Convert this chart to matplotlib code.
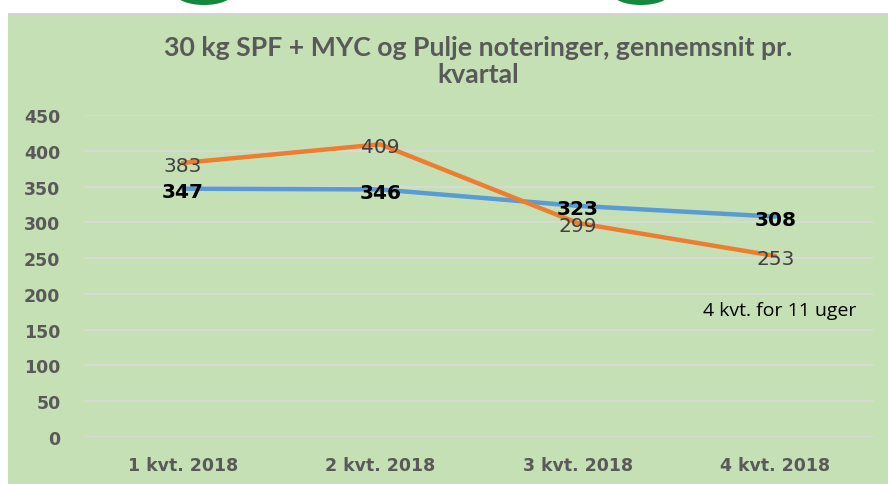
import matplotlib
matplotlib.use("Agg")
import matplotlib.pyplot as plt
from matplotlib.patches import Rectangle, Ellipse

categories = ["1 kvt. 2018", "2 kvt. 2018", "3 kvt. 2018", "4 kvt. 2018"]
spf_myc = [347, 346, 323, 308]
pulje = [383, 409, 299, 253]
yticks = [0, 50, 100, 150, 200, 250, 300, 350, 400, 450]
title_lines = ["30 kg SPF + MYC og Pulje noteringer, gennemsnit pr.", "kvartal"]
note = "4 kvt. for 11 uger"

W, H = 888, 485
fig = plt.figure(figsize=(W / 100, H / 100), dpi=100)
fig.patch.set_facecolor("white")

# green panel
fig.patches.append(Rectangle((8 / W, 0), 1 - 8 / W, 1 - 15 / H, transform=fig.transFigure,
                             facecolor="#C5E0B4", edgecolor="none", zorder=-5))
fig.patches.append(Rectangle((8 / W, 1 - 16 / H), 1 - 8 / W, 2 / H, transform=fig.transFigure,
                             facecolor="#D4D4D4", edgecolor="none", zorder=-5))
# green bits of logo at top
for cx in (204, 641):
    fig.patches.append(Ellipse((cx / W, 1 - (-6) / H), 58 / W, 24 / H, transform=fig.transFigure,
                               facecolor="#12893C", edgecolor="none", zorder=-5))

ax = fig.add_axes([84 / W, 1 - 438 / H, (874 - 84) / W, (438 - 116) / H])
ax.set_zorder(2)
ax.set_facecolor("none")
x = list(range(len(categories)))
ax.plot(x, spf_myc, color="#5B9BD5", lw=3.2, solid_capstyle="round", zorder=3)
ax.plot(x, pulje, color="#ED7D31", lw=3.2, solid_capstyle="round", zorder=3)

for xi, v in zip(x, spf_myc):
    ax.annotate(str(v), (xi, v), xytext=(0, -2), textcoords="offset points",
                ha="center", va="center", fontsize=14.5, fontweight="bold",
                color="black", family="DejaVu Sans", zorder=5)
for xi, v in zip(x, pulje):
    ax.annotate(str(v), (xi, v), xytext=(0, -1.5), textcoords="offset points",
                ha="center", va="center", fontsize=14.5,
                color="#404040", family="DejaVu Sans", zorder=5)

ax.set_xlim(-0.5, len(categories) - 0.5)
ax.set_ylim(0, 450)
ax.set_yticks(yticks)
ax.set_xticks(x)
ax.set_xticklabels(categories)
ax.grid(axis="y", color="#D9D9D9", lw=1.2)
ax.set_axisbelow(True)
for s in ax.spines.values():
    s.set_visible(False)
ax.tick_params(length=0)
ax.tick_params(axis="y", pad=17)
ax.tick_params(axis="x", pad=14)
for lab in ax.get_yticklabels() + ax.get_xticklabels():
    lab.set_fontsize(12.5)
    lab.set_fontweight("bold")
    lab.set_color("#595959")
    lab.set_family("DejaVu Sans")

ax.text(3.02, 177, note, ha="center", va="center", fontsize=14, color="black",
        family="Open Sans")

for i, line in enumerate(title_lines):
    fig.text(478 / W, 1 - (48 + 27 * i) / H, line, ha="center", va="center", fontsize=19.2,
             fontweight="bold", color="#595959", family="Lato")

fig.savefig("out.png", dpi=100, facecolor="white")
